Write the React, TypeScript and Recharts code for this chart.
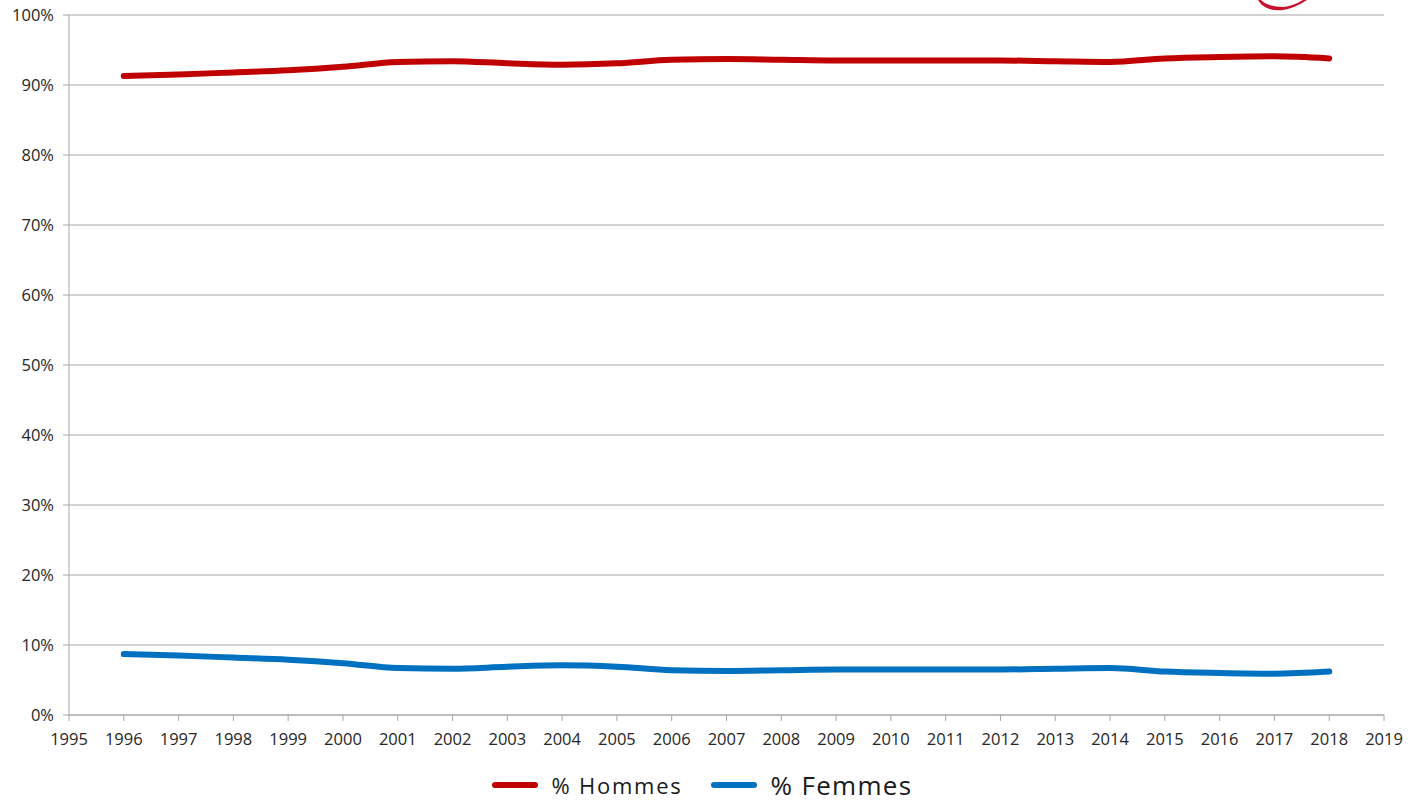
import { LineChart, Line, XAxis, YAxis, CartesianGrid, Legend } from 'recharts';

const years = [1996, 1997, 1998, 1999, 2000, 2001, 2002, 2003, 2004, 2005, 2006, 2007, 2008, 2009, 2010, 2011, 2012, 2013, 2014, 2015, 2016, 2017, 2018];
const hommes = [91.3, 91.5, 91.8, 92.1, 92.6, 93.3, 93.4, 93.1, 92.9, 93.1, 93.6, 93.7, 93.6, 93.5, 93.5, 93.5, 93.5, 93.4, 93.3, 93.8, 94.0, 94.1, 93.8];
const femmes = [8.7, 8.5, 8.2, 7.9, 7.4, 6.7, 6.6, 6.9, 7.1, 6.9, 6.4, 6.3, 6.4, 6.5, 6.5, 6.5, 6.5, 6.6, 6.7, 6.2, 6.0, 5.9, 6.2];
const xTicks = [1995, 1996, 1997, 1998, 1999, 2000, 2001, 2002, 2003, 2004, 2005, 2006, 2007, 2008, 2009, 2010, 2011, 2012, 2013, 2014, 2015, 2016, 2017, 2018, 2019];
const yTicks = [0, 10, 20, 30, 40, 50, 60, 70, 80, 90, 100];

const data = years.map((year, i) => ({ year, hommes: hommes[i], femmes: femmes[i] }));

const FONT = '"Open Sans", sans-serif';

function LegendBox() {
  return (
    <div style={{ height: 46, display: 'flex', justifyContent: 'center', alignItems: 'center', fontFamily: FONT, color: '#1a1a1a', paddingTop: 14, paddingLeft: 20, boxSizing: 'border-box', lineHeight: '24px' }}>
      <svg width={46} height={8} style={{ marginRight: 14 }}>
        <line x1={3} y1={4} x2={43} y2={4} stroke="#C00000" strokeWidth={6} strokeLinecap="round" />
      </svg>
      <span style={{ fontSize: 22, letterSpacing: '0.08em', marginRight: 28 }}>% Hommes</span>
      <svg width={46} height={8} style={{ marginRight: 14 }}>
        <line x1={3} y1={4} x2={43} y2={4} stroke="#0070C0" strokeWidth={6} strokeLinecap="round" />
      </svg>
      <span style={{ fontSize: 26, letterSpacing: '0.05em' }}>% Femmes</span>
    </div>
  );
}

export default function App() {
  return (
    <div style={{ position: 'absolute', left: 0, top: 0, width: 1410, height: 801, background: '#fff' }}>
      <LineChart width={1410} height={801} data={data} margin={{ top: 15, right: 26, bottom: 0, left: 0 }}>
        <CartesianGrid vertical={false} stroke="#A6A6A6" strokeWidth={1} />
        <XAxis
          dataKey="year"
          type="number"
          domain={[1995, 2019]}
          ticks={xTicks}
          interval={0}
          height={40}
          stroke="#A6A6A6"
          tickSize={6}
          tickMargin={12}
          tick={{ fill: '#262626', fontSize: 16.5, fontFamily: FONT }}
        />
        <YAxis
          domain={[0, 100]}
          ticks={yTicks}
          width={69}
          stroke="#A6A6A6"
          tickSize={6}
          tickMargin={9}
          tickFormatter={(v) => `${v}%`}
          tick={{ fill: '#262626', fontSize: 16.5, fontFamily: FONT }}
        />
        <Legend verticalAlign="bottom" content={() => <LegendBox />} />
        <Line type="monotone" dataKey="hommes" name="% Hommes" stroke="#C00000" strokeWidth={6} strokeLinecap="round" dot={false} isAnimationActive={false} />
        <Line type="monotone" dataKey="femmes" name="% Femmes" stroke="#0070C0" strokeWidth={6} strokeLinecap="round" dot={false} isAnimationActive={false} />
      </LineChart>
      <svg width={80} height={14} style={{ position: 'absolute', left: 1255, top: 0 }}>
        <path d="M 3 0 Q 10 12 28 10 Q 40 8 52 0 L 48 0 Q 38 6 28 7 Q 13 7 6 0 Z" fill="#C8102E" />
      </svg>
    </div>
  );
}
